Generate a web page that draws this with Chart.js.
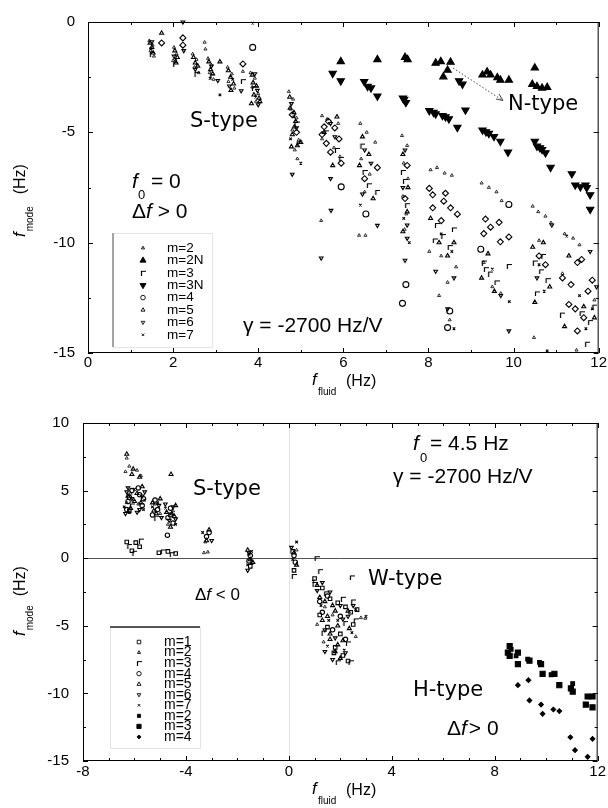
<!DOCTYPE html>
<html>
<head>
<meta charset="utf-8">
<script src="https://cdn.jsdelivr.net/npm/chart.js@4.4.0/dist/chart.umd.min.js"></script>
<style>
  html, body { margin: 0; padding: 0; background: #fff; }
  canvas { display: block; }
</style>
</head>
<body>
<canvas id="top" width="608" height="400"></canvas>
<canvas id="bot" width="608" height="408"></canvas>
<script>
// ---- top panel: f0 = 0 ----
const topLabels = ['m=2', 'm=2N', 'm=3', 'm=3N', 'm=4', 'm=5', 'm=6', 'm=7'];
const topXTicks = [0, 12, 2];
const topYTicks = [-15, 0, 5];

const t_m2 = [[1.44,-0.85],[1.52,-1.05],[1.47,-1.3],[1.55,-1.55],[2.02,-1.15],[2.08,-1.45],[2.0,-1.75],
  [2.46,-1.45],[2.55,-1.7],[2.5,-2.05],[2.6,-2.3],[2.74,-0.92],[2.76,-1.23],[2.82,-1.65],[2.9,-1.95],[2.86,-2.3],[2.95,-2.6],
  [3.28,-2.05],[3.38,-2.35],[3.3,-2.7],[3.44,-3.0],[3.64,-2.24],[3.82,-2.3],[3.92,-2.55],[3.86,-2.95],[4.0,-3.25],[3.95,-3.6],
  [4.72,-3.15],[4.82,-3.5],[4.76,-3.95],[4.9,-4.35],[4.8,-4.9],[4.95,-5.35],[4.86,-5.8],[4.92,-6.2],
  [5.5,-4.25],[5.62,-4.4],[5.88,-4.6],[5.5,-5.3],[5.78,-5.7],[5.92,-6.1],[5.48,-9.0],
  [6.4,-4.6],[6.55,-5.0],[6.75,-5.45],[6.42,-6.2],[6.62,-6.9],[6.5,-7.7],[6.37,-9.67],[6.52,-9.67],
  [7.38,-5.15],[7.5,-5.6],[7.42,-6.4],[7.52,-7.1],[7.4,-7.9],[7.48,-8.7],[7.44,-9.4],
  [8.05,-6.7],[8.2,-6.6],[8.38,-6.85],[8.55,-6.95],[8.02,-10.4],[8.3,-10.6],[8.65,-11.1],[8.45,-11.8],[8.25,-12.4],[8.5,-13.5],
  [9.25,-7.3],[9.42,-7.5],[9.6,-7.7],[9.72,-8.1],[9.3,-10.9],[9.5,-12.0],[9.7,-12.3],
  [10.45,-8.35],[10.58,-8.6],[10.75,-8.8],[10.88,-9.1],[10.6,-9.9],[10.48,-14.3],
  [11.2,-9.6],[11.4,-9.8],[11.55,-10.1],[11.15,-11.4],[11.9,-12.6],[11.48,-14.87]];
const t_m2N = [[5.94,-1.79],[6.80,-1.70],[7.45,-1.60],[7.51,-1.70],[8.17,-1.86],[8.29,-1.79],[8.52,-1.82],[8.45,-2.18],
  [8.35,-2.48],[9.27,-2.40],[9.38,-2.26],[9.46,-2.40],[9.62,-2.52],[9.69,-2.63],[9.89,-2.63],[10.50,-2.08],
  [10.44,-2.82],[10.55,-2.92],[10.67,-2.99],[10.79,-2.96]];
const t_m3 = [[1.5,-1.45],[2.05,-1.9],[2.55,-2.35],[2.92,-2.45],[3.64,-2.68],[3.9,-3.0],[4.9,-4.6],[4.95,-5.5],
  [5.85,-5.8],[5.95,-6.2],[5.6,-5.0],[6.5,-6.8],[6.6,-7.4],[6.8,-7.7],[6.45,-5.6],[7.45,-7.2],[7.5,-8.3],[7.4,-6.8],
  [8.2,-9.2],[8.35,-9.7],[8.5,-10.2],[8.6,-9.4],[8.15,-9.9],[9.3,-10.9],[9.45,-11.4],[9.6,-11.8],[9.89,-11.06],[9.35,-11.2],
  [10.5,-10.9],[10.65,-11.3],[10.8,-11.7],[10.55,-12.3],[10.7,-10.6],[11.14,-13.26],[11.6,-13.2],[11.8,-13.6],[11.73,-14.58],[11.9,-12.9]];
const t_m3N = [[5.75,-2.33],[5.94,-2.67],[6.49,-2.70],[6.57,-2.92],[6.65,-2.99],[6.80,-3.36],[7.43,-3.51],[7.47,-3.65],[7.40,-3.45],
  [8.72,-2.67],[8.80,-2.82],[8.02,-4.02],[8.12,-4.10],[8.17,-4.17],[8.33,-4.24],[8.40,-4.30],[8.48,-4.39],[8.68,-4.78],[8.87,-3.99],
  [9.27,-4.90],[9.35,-4.98],[9.42,-5.05],[9.54,-5.19],[9.69,-5.41],[9.87,-5.90],[10.50,-5.41],[10.55,-5.63],[10.62,-5.70],
  [10.67,-5.78],[10.75,-5.93],[10.87,-6.59],[11.37,-6.88],[11.45,-7.39],[11.57,-7.47],[11.69,-7.39],[11.72,-7.51],[11.80,-7.83],[11.80,-8.49]];
const t_m4diam = [[1.73,-0.95],[2.23,-0.72],[2.23,-1.05],[3.64,-1.9],[4.8,-4.2],[4.9,-5.0],
  [5.5,-5.1],[5.6,-5.5],[5.8,-4.8],[5.9,-5.3],[5.7,-5.9],[5.95,-6.4],[5.65,-4.5],[5.55,-4.75],[6.8,-6.6],[6.5,-7.1],
  [7.5,-6.5],[7.45,-8.0],[8.02,-7.54],[8.1,-7.83],[8.4,-7.76],[8.36,-8.12],[8.52,-8.42],[8.68,-8.71],[8.1,-8.42],[8.3,-9.0],
  [9.34,-8.93],[9.46,-9.30],[9.66,-9.08],[9.30,-9.59],[9.69,-9.96],[9.89,-9.74],[10.6,-10.6],[10.75,-11.0],
  [11.15,-11.6],[11.35,-11.9],[11.5,-10.9],[11.6,-10.76],[11.3,-12.8],[11.75,-12.2],[11.85,-11.7],[11.45,-13.0],[11.65,-13.4],[11.5,-14.0]];
const t_m4circ = [[3.87,-1.15],[5.95,-7.47],[6.53,-8.7],[7.47,-11.9],[7.39,-12.75],[9.23,-10.3],[9.89,-8.27],[8.45,-13.85],[8.5,-13.1]];
const t_m5 = [[1.5,-1.15],[1.73,-0.5],[2.1,-1.6],[2.52,-1.85],[2.88,-2.15],[3.1,-1.8],[3.35,-2.5],[3.88,-2.75],[4.02,-3.45],[3.84,-3.7],
  [4.75,-3.9],[4.85,-4.75],[5.0,-5.45],[4.78,-5.65],[5.55,-5.0],[5.75,-6.5],[5.85,-4.3],[6.45,-5.2],[6.6,-6.0],[6.7,-8.0],[6.38,-6.5],
  [7.4,-6.0],[7.5,-8.6],[7.4,-9.5],[7.52,-7.5],[8.05,-8.9],[8.25,-10.0],[8.45,-10.6],[8.6,-10.0],[9.25,-11.6],[9.55,-12.2],[9.4,-10.5],
  [10.45,-10.2],[10.7,-10.0],[10.85,-12.0],[10.5,-12.7],[11.3,-10.6],[11.65,-12.9],[11.9,-13.4],[11.2,-13.8],
  [1.46,-0.95],[1.53,-1.4],[2.04,-1.3],[2.07,-1.85],[2.48,-1.6],[2.58,-2.0],[2.84,-1.8],[2.93,-2.35],[3.3,-2.2],[3.42,-2.8],[3.36,-3.1],
  [3.86,-2.4],[3.96,-2.9],[3.9,-3.3],[4.04,-3.6],[4.74,-3.4],[4.84,-4.1],[4.88,-4.5],[4.8,-5.1],[4.92,-5.6]];
const t_m6 = [[2.23,0],[2.25,-1.3],[3.05,-2.65],[3.6,-3.12],[4.0,-3.75],[4.8,-6.9],[5.48,-10.7],[5.7,-7.1],[5.71,-8.54],
  [6.8,-9.22],[6.45,-7.8],[7.5,-9.2],[7.45,-10.8],[8.17,-11.3],[8.6,-11.6],[8.45,-13.0],[9.89,-14.0],[9.7,-12.4],
  [10.9,-9.2],[10.55,-11.6],[11.8,-10.4],[11.95,-12.0],
  [1.5,-0.9],[2.02,-1.55],[2.52,-2.15],[2.9,-2.0],[3.32,-2.9],[3.92,-2.35],[3.98,-3.1],[4.78,-3.7],[4.9,-4.8],
  [5.7,-4.6],[5.8,-5.2],[6.5,-5.8],[6.65,-6.4],[7.45,-5.8],[7.4,-7.5],[7.5,-9.8]];
const t_m7 = [[3.1,-3.3],[3.87,-0.05],[5.0,-6.4],[6.4,-8.3],[7.55,-10.0],[8.6,-13.9],[9.9,-12.67],[10.79,-14.9],[11.25,-9.7],[11.85,-13.0],
  [1.48,-1.2],[2.06,-1.7],[2.56,-1.95],[2.87,-2.55],[3.4,-2.6],[3.94,-3.4],[4.84,-4.3],[4.76,-5.3],[7.42,-8.9],[8.3,-9.6],
  [8.55,-10.4],[9.5,-11.2],[10.6,-11.0],[10.72,-12.2],[11.55,-12.4],[11.7,-13.9]];

// ---- bottom panel: f0 = 4.5 Hz ----
const botLabels = ['m=1', 'm=2', 'm=3', 'm=4', 'm=5', 'm=6', 'm=7', 'm=2', 'm=3', 'm=4'];
const botXTicks = [-8, 12, 4];
const botYTicks = [-15, 10, 5];

const b_m1 = [[-6.3,1.2],[-6.1,0.55],[-5.8,0.85],[-5.95,1.15],[-5.05,0.4],[-4.7,0.5],[-4.4,0.35],[-6.2,3.5],[-4.6,3.2],
  [-1.5,-0.6],[0.2,-0.9],[0.15,0.5],[1.0,-1.5],[1.3,-2.2],[1.6,-3.0],[1.9,-3.3],[2.2,-3.6],[2.4,-4.0],[2.65,-3.8],
  [1.2,-4.2],[1.5,-5.1],[2.0,-5.6],[1.8,-6.6],[2.1,-7.2],[2.3,-7.6],[1.75,-7.0],[2.5,-4.9]];
const b_m2 = [[-6.3,7.4],[-6.2,6.8],[-6.35,6.4],[-6.15,4.8],[-6.3,4.1],[-5.9,6.5],[-5.75,6.1],[-5.85,4.0],[-5.2,4.0],[-5.0,3.3],
  [-4.5,3.5],[-4.7,2.5],[-3.3,0.4],[-3.15,0.45],[-3.25,1.2],[-1.55,0.3],[-1.45,-0.4],[0.3,0.6],
  [1.4,-3.6],[1.7,-4.2],[2.8,-4.4],[2.97,-4.45],[2.6,-5.8],[1.1,-4.9],[1.35,-6.2]];
const b_m3 = [[-6.2,0.9],[-5.75,1.3],[-6.0,0.4],[-4.9,0.5],[-4.55,0.3],[1.08,0],[1.22,-0.96],[0.19,-1.32],[2.45,-1.42],
  [1.0,-1.9],[1.45,-2.6],[2.1,-3.0],[2.5,-3.2],[2.6,-4.6],[2.2,-4.8],[1.35,-5.5],[2.3,-6.3],[1.9,-7.7],[2.4,-7.7],[-6.1,3.9],[-5.15,3.0]];
const b_m4 = [[-6.2,4.5],[-6.3,3.6],[-6.1,5.0],[-6.25,4.2],[-5.8,4.7],[-5.7,3.9],[-5.85,5.2],[-5.65,4.4],[-5.1,3.6],[-5.3,3.2],
  [-5.2,4.3],[-4.7,3.0],[-4.5,2.6],[-4.6,3.7],[-4.72,1.7],[-3.2,1.6],[-3.1,1.9],[-1.5,0.2],[-1.55,-0.2],[0.2,0.2],[0.25,-0.3],
  [1.5,-2.8],[1.3,-4.0],[2.0,-4.3],[1.7,-5.3],[2.2,-6.0],[1.2,-3.2]];
const b_m5 = [[-6.3,7.7],[-6.1,6.2],[-6.05,6.6],[-6.0,4.2],[-5.8,6.0],[-5.7,5.3],[-4.58,6.2],[-5.0,4.4],[-5.25,3.5],
  [-4.4,3.9],[-4.6,2.3],[-4.45,3.1],[-3.1,2.1],[-1.4,-0.3],[-1.6,0.6],[0.3,-0.5],[1.2,-2.9],[1.8,-3.9],[1.6,-6.0],[1.9,-6.4],[2.35,-5.2],
  [-6.25,4.6],[-6.15,3.7],[-5.75,4.1],[-5.9,4.8],[-5.15,3.3],[-5.3,4.1],[-4.55,3.3],[-4.75,3.4],[-3.2,1.3],[-1.5,-0.1],[0.2,0.4],
  [1.1,-2.0],[1.4,-3.2],[1.7,-3.5],[2.3,-3.9],[1.5,-4.3],[1.3,-4.6],[1.9,-5.0],[1.6,-5.6],[2.1,-6.1],[1.8,-6.9],[2.0,-7.4]];
const b_m6 = [[-6.25,5.2],[-6.35,3.3],[-5.9,3.4],[-5.6,4.9],[-4.95,3.0],[-4.4,2.9],[-4.8,4.0],[-3.0,1.3],[-1.6,-0.9],[0.1,0.8],
  [1.1,-2.4],[2.3,-4.3],[1.4,-6.9],[2.0,-3.5],
  [-6.1,4.4],[-6.3,4.9],[-5.8,3.6],[-5.7,4.6],[-5.05,3.9],[-4.5,3.8],[-4.65,2.8],[-1.55,0.4],
  [1.3,-1.8],[1.6,-2.5],[2.5,-3.5],[2.1,-4.5],[1.4,-5.3],[1.8,-5.9],[1.7,-7.5],[2.2,-7.0]];
const b_m7 = [[-6.4,3.8],[-5.6,4.3],[-5.3,3.8],[-4.8,3.7],[-3.35,1.9],[-1.45,0.5],[0.3,1.2],[0.95,-1.7],[2.6,-3.8],[1.55,-4.6],[2.15,-6.8],[3.0,-4.3],
  [-6.2,3.4],[-6.0,5.1],[-5.65,3.6],[-5.1,4.1],[-4.4,2.5],[-1.6,-0.5],[0.15,-0.1],[1.25,-3.5],[1.9,-4.6],[2.45,-5.5],[1.5,-6.5]];
const h_m2 = [[8.64,-6.74],[8.83,-7.22],[9.28,-7.46],[9.74,-7.70],[10.19,-8.62],[11.03,-9.27]];
const h_m3 = [[8.58,-6.5],[8.51,-6.98],[8.90,-6.98],[8.90,-7.83],[8.58,-7.22],[9.35,-7.58],[9.80,-7.83],[9.86,-8.55],
  [10.32,-8.55],[10.51,-9.39],[10.96,-9.63],[11.03,-9.87],[11.61,-10.23],[11.80,-10.23],[11.54,-10.83],[11.80,-11.03]];
const h_m4 = [[8.90,-9.39],[9.31,-9.02],[9.35,-10.52],[9.80,-10.83],[9.86,-11.51],[10.28,-11.19],[10.51,-11.31],
  [10.94,-13.24],[11.12,-14.2],[11.61,-14.69],[11.80,-13.36]];

const FONT = "'Liberation Sans', Arial, sans-serif";
const TYPEFONT = "'DejaVu Sans', sans-serif";
const pts = a => a.map(([x, y]) => ({ x, y }));

function cornerSymbol(size) {
  const c = document.createElement('canvas');
  c.width = size; c.height = size;
  const g = c.getContext('2d');
  g.strokeStyle = '#000'; g.lineWidth = 1.2;
  g.beginPath(); g.moveTo(1.5, size); g.lineTo(1.5, 1.5); g.lineTo(size, 1.5); g.stroke();
  return c;
}
const corner = cornerSymbol(6);

function ds(label, data, style, radius, extra) {
  return Object.assign({
    label, data: pts(data),
    pointStyle: style, pointRadius: radius, pointRotation: 0,
    pointBorderColor: '#000', pointBackgroundColor: 'rgba(0,0,0,0)', pointBorderWidth: 1.1,
    borderColor: '#000', clip: false
  }, extra || {});
}

function txt(ctx, s, x, y, size, opts) {
  opts = opts || {};
  ctx.font = (opts.italic ? 'italic ' : '') + size + 'px ' + (opts.family || FONT);
  ctx.textAlign = 'left';
  ctx.textBaseline = opts.baseline || 'alphabetic';
  ctx.fillStyle = '#000';
  ctx.fillText(s, x, y);
  return ctx.measureText(s).width;
}

function drawVTitle(ctx, xb, y0, gap) {
  ctx.save();
  ctx.translate(xb, y0);
  ctx.rotate(-Math.PI / 2);
  let w = txt(ctx, 'f', 0, 0, 17, { italic: true });
  let w2 = txt(ctx, 'mode', w + 1, 8, 10);
  txt(ctx, '(Hz)', w + 1 + w2 + gap, 0, 16);
  ctx.restore();
}

function drawHTitle(ctx, x, yb) {
  txt(ctx, 'f', x, yb, 17, { italic: true });
  txt(ctx, 'fluid', x + 6, yb + 10, 10);
  txt(ctx, '(Hz)', x + 34, yb + 1, 16);
}

function drawFrame(chart, xMinor, xMajor, yMinor, yMajor) {
  const { ctx, chartArea: a, scales: { x, y } } = chart;
  ctx.save();
  ctx.strokeStyle = '#000';
  ctx.lineWidth = 1;
  ctx.strokeRect(a.left + 0.5, a.top + 0.5, a.right - a.left - 1, a.bottom - a.top - 1);
  ctx.beginPath();
  for (let v = x.min; v <= x.max + 1e-9; v += xMinor) {
    const isMaj = Math.abs(v / xMajor - Math.round(v / xMajor)) < 1e-6;
    const len = isMaj ? 5 : 3;
    const p = Math.round(x.getPixelForValue(v)) + 0.5;
    ctx.moveTo(p, a.bottom); ctx.lineTo(p, a.bottom - len);
    ctx.moveTo(p, a.top); ctx.lineTo(p, a.top + len);
  }
  for (let v = y.min; v <= y.max + 1e-9; v += yMinor) {
    const isMaj = Math.abs(v / yMajor - Math.round(v / yMajor)) < 1e-6;
    const len = isMaj ? 5 : 3;
    const p = Math.round(y.getPixelForValue(v)) + 0.5;
    ctx.moveTo(a.left, p); ctx.lineTo(a.left + len, p);
    ctx.moveTo(a.right, p); ctx.lineTo(a.right - len, p);
  }
  ctx.stroke();
  ctx.restore();
}

function drawLegend(chart, L) {
  const ctx = chart.ctx;
  ctx.save();
  ctx.fillStyle = '#fff';
  ctx.fillRect(L.x1, L.y1, L.x2 - L.x1, L.y2 - L.y1);
  ctx.lineWidth = 1;
  ctx.strokeStyle = '#e4e4e4';
  ctx.strokeRect(L.x1 + 0.5, L.y1 + 0.5, L.x2 - L.x1, L.y2 - L.y1);
  ctx.strokeStyle = L.lineColor;
  ctx.lineWidth = 1.5;
  ctx.beginPath();
  if (L.line === 'left') { ctx.moveTo(L.x1, L.y1); ctx.lineTo(L.x1, L.y2); }
  else { ctx.moveTo(L.x1, L.y1); ctx.lineTo(L.x2, L.y1); }
  ctx.stroke();
  chart.data.datasets.forEach((d, i) => {
    const yy = L.y0 + i * L.dy;
    ctx.strokeStyle = '#000';
    ctx.fillStyle = d.pointBackgroundColor;
    ctx.lineWidth = 0.9;
    Chart.helpers.drawPoint(ctx, {
      pointStyle: d.legendStyle || d.pointStyle,
      radius: d.legendRadius || d.pointRadius,
      rotation: d.pointRotation,
      borderWidth: 0.9
    }, L.sx, yy);
    txt(ctx, L.labels[i], L.tx, yy, L.size, { baseline: 'middle' });
  });
  ctx.restore();
}

function scaleOpts(ticks, pad, fitKey, fitVal) {
  return {
    type: 'linear', min: ticks[0], max: ticks[1],
    grid: { display: false, drawTicks: false },
    border: { display: false },
    ticks: { stepSize: ticks[2], autoSkip: false, padding: pad, color: '#000', font: { family: FONT, size: 15 } },
    afterFit: s => { s[fitKey] = fitVal; }
  };
}

// ---- top chart ----
const topDatasets = [
  ds('m=2', t_m2, 'triangle', 1.8, { pointBorderWidth: 0.8 }),
  ds('m=2N', t_m2N, 'triangle', 4.2, { pointBackgroundColor: '#000', legendRadius: 3.5 }),
  ds('m=3', t_m3, corner, 3),
  ds('m=3N', t_m3N, 'triangle', 4.2, { pointRotation: 180, pointBackgroundColor: '#000', legendRadius: 3.5 }),
  ds('m=4', t_m4diam.concat(t_m4circ), t_m4diam.map(() => 'rectRot').concat(t_m4circ.map(() => 'circle')), 3,
     { legendStyle: 'circle', legendRadius: 2.3 }),
  ds('m=5', t_m5, 'triangle', 2.3),
  ds('m=6', t_m6, 'triangle', 2.1, { pointRotation: 180 }),
  ds('m=7', t_m7, 'crossRot', 1.8)
];

new Chart(document.getElementById('top'), {
  type: 'scatter',
  data: { datasets: topDatasets },
  options: {
    responsive: false, animation: false, events: [],
    layout: { padding: { top: 12, right: 8, left: 0, bottom: 0 } },
    plugins: { legend: { display: false }, tooltip: { enabled: false } },
    scales: {
      x: scaleOpts(topXTicks, 1, 'height', 47),
      y: scaleOpts(topYTicks, 13, 'width', 88)
    }
  },
  plugins: [{
    id: 'topDecor',
    afterDraw(chart) {
      const ctx = chart.ctx;
      drawFrame(chart, 1, 2, 2.5, 5);
      drawLegend(chart, { x1: 113, y1: 233, x2: 212, y2: 347, line: 'left', lineColor: '#888',
        y0: 248, dy: 12.4, sx: 143, tx: 167, size: 13.5, labels: topLabels });
      txt(ctx, 'S-type', 190, 122, 21, { family: TYPEFONT, baseline: 'middle' });
      txt(ctx, 'N-type', 508, 105, 21, { family: TYPEFONT, baseline: 'middle' });
      // dotted pointer to N-type
      ctx.save();
      ctx.strokeStyle = '#444'; ctx.lineWidth = 1; ctx.setLineDash([1.5, 2]);
      ctx.beginPath(); ctx.moveTo(453, 68); ctx.lineTo(502, 100); ctx.stroke();
      ctx.setLineDash([]);
      ctx.beginPath(); ctx.moveTo(496, 99); ctx.lineTo(503, 100.5); ctx.lineTo(499, 94); ctx.stroke();
      ctx.restore();
      txt(ctx, 'f', 132, 188, 21, { italic: true });
      txt(ctx, '0', 138, 199, 13);
      txt(ctx, '= 0', 151, 188, 21);
      let w = txt(ctx, '\u0394', 132, 218, 21);
      w += txt(ctx, 'f', 132 + w, 218, 21, { italic: true });
      txt(ctx, ' > 0', 132 + w, 218, 21);
      txt(ctx, '\u03b3 = -2700 Hz/V', 243, 332, 21);
      drawHTitle(ctx, 312, 385);
      drawVTitle(ctx, 25, 237, 12);
    }
  }]
});

// ---- bottom chart ----
const botDatasets = [
  ds('m=1', b_m1, 'rect', 2.5),
  ds('m=2', b_m2, 'triangle', 1.8, { pointBorderWidth: 0.8 }),
  ds('m=3', b_m3, corner, 3),
  ds('m=4', b_m4, 'circle', 2.2),
  ds('m=5', b_m5, 'triangle', 2.3),
  ds('m=6', b_m6, 'triangle', 2.1, { pointRotation: 180 }),
  ds('m=7', b_m7, 'crossRot', 1.8),
  ds('m=2', h_m2, 'rect', 2.6, { pointBackgroundColor: '#000', legendRadius: 2.2 }),
  ds('m=3', h_m3, 'rect', 3.6, { pointBackgroundColor: '#000', legendRadius: 3 }),
  ds('m=4', h_m4, 'rectRot', 2.3, { pointBackgroundColor: '#000', legendRadius: 2 })
];

new Chart(document.getElementById('bot'), {
  type: 'scatter',
  data: { datasets: botDatasets },
  options: {
    responsive: false, animation: false, events: [],
    layout: { padding: { top: 15, right: 8, left: 0, bottom: 0 } },
    plugins: { legend: { display: false }, tooltip: { enabled: false } },
    scales: {
      x: scaleOpts(botXTicks, 2, 'height', 47),
      y: scaleOpts(botYTicks, 14, 'width', 83)
    }
  },
  plugins: [{
    id: 'botDecor',
    beforeDatasetsDraw(chart) {
      const { ctx, chartArea: a, scales: { x, y } } = chart;
      ctx.save();
      ctx.lineWidth = 1;
      ctx.strokeStyle = '#e2e2e2';
      const px = Math.round(x.getPixelForValue(0)) + 0.5;
      ctx.beginPath(); ctx.moveTo(px, a.top); ctx.lineTo(px, a.bottom); ctx.stroke();
      ctx.strokeStyle = '#555';
      const py = Math.round(y.getPixelForValue(0)) + 0.5;
      ctx.beginPath(); ctx.moveTo(a.left, py); ctx.lineTo(a.right, py); ctx.stroke();
      ctx.restore();
    },
    afterDraw(chart) {
      const ctx = chart.ctx;
      drawFrame(chart, 1, 4, 2.5, 5);
      drawLegend(chart, { x1: 110, y1: 227, x2: 200, y2: 348, line: 'top', lineColor: '#222',
        y0: 242, dy: 10.55, sx: 139, tx: 164, size: 14, labels: botLabels });
      txt(ctx, 'f', 413, 50, 21, { italic: true });
      txt(ctx, '0', 420, 62, 13);
      txt(ctx, '= 4.5 Hz', 430, 50, 21);
      txt(ctx, '\u03b3 = -2700 Hz/V', 393, 83, 21);
      txt(ctx, 'S-type', 193, 90, 21, { family: TYPEFONT, baseline: 'middle' });
      txt(ctx, 'W-type', 368, 180, 21, { family: TYPEFONT, baseline: 'middle' });
      txt(ctx, 'H-type', 413, 291, 21, { family: TYPEFONT, baseline: 'middle' });
      let w = txt(ctx, '\u0394', 195, 200, 17);
      w += txt(ctx, 'f', 195 + w, 200, 17, { italic: true });
      txt(ctx, ' < 0', 195 + w, 200, 17);
      w = txt(ctx, '\u0394', 447, 335, 21);
      w += txt(ctx, 'f', 447 + w, 335, 21, { italic: true });
      txt(ctx, '> 0', 447 + w + 2, 335, 21);
      drawHTitle(ctx, 312, 394);
      drawVTitle(ctx, 25, 236, 9);
    }
  }]
});
</script>
</body>
</html>
